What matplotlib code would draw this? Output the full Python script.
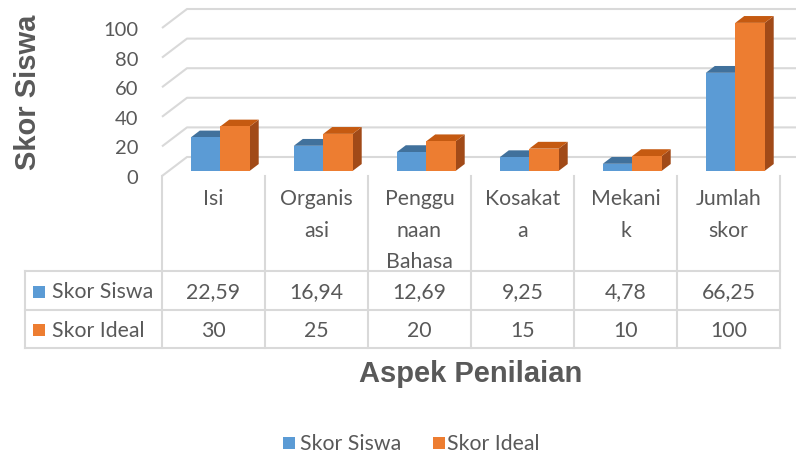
import matplotlib
matplotlib.use("Agg")
import matplotlib.pyplot as plt
from matplotlib.patches import Rectangle, Polygon
from matplotlib.transforms import Affine2D, blended_transform_factory

# ---------------- data ----------------
categories = ["Isi", "Organis\nasi", "Penggu\nnaan\nBahasa", "Kosakat\na", "Mekani\nk", "Jumlah\nskor"]
series_names = ["Skor Siswa", "Skor Ideal"]
skor_siswa = [22.59, 16.94, 12.69, 9.25, 4.78, 66.25]
skor_ideal = [30, 25, 20, 15, 10, 100]
y_ticks = [0, 20, 40, 60, 80, 100]
y_title = "Skor Siswa"
x_title = "Aspek Penilaian"

# ---------------- style ----------------
W, H = 796, 456
front_col = ["#5B9BD5", "#ED7D31"]
top_col = ["#41719C", "#C55A11"]
side_col = ["#3F6F9B", "#A14A18"]
grid_col = "#D9D9D9"
txt_col = "#595959"
FONT = "Lato"
plt.rcParams["font.family"] = [FONT, "DejaVu Sans"]

fig = plt.figure(figsize=(W / 100, H / 100), dpi=100)
fig.patch.set_facecolor("white")

# plot area (front plane) in pixels
left_px, right_px = 162, 780
y0_px, y100_px = 177, 29
ax = fig.add_axes([left_px / W, 1 - y0_px / H, (right_px - left_px) / W, (y0_px - y100_px) / H])
ncat = len(categories)
ax.set_xlim(0, ncat)
ax.set_ylim(0, 100)
for s in ax.spines.values():
    s.set_visible(False)
ax.set_xticks([])
ax.set_yticks(y_ticks)
ax.set_yticklabels([str(t) for t in y_ticks])
ax.tick_params(axis="y", length=0, pad=17, labelsize=14.5, labelcolor=txt_col)
ax.patch.set_alpha(0)

col_px = (right_px - left_px) / ncat
DX = 25 / col_px                      # depth shift in category units
DY = 19 / (y0_px - y100_px) * 100     # depth shift in value units
f0, f1 = 0.27, 0.63                   # bar front/back depth fractions
bw = 0.286                            # bar width (category units)

# gridlines (floor + back wall)
x_right = (W - left_px) / col_px
for t in y_ticks:
    ax.plot([0, DX, x_right], [t, t + DY, t + DY], color=grid_col, lw=1.5,
            clip_on=False, zorder=1, solid_capstyle="butt")

# 3D bars
d = f1 - f0
for i in range(ncat):
    for s, vals in enumerate([skor_siswa, skor_ideal]):
        v = vals[i]
        x0 = i + 0.5 - bw + s * bw + f0 * DX
        yb = f0 * DY
        ax.add_patch(Polygon([(x0 + bw, yb), (x0 + bw + d * DX, yb + d * DY),
                              (x0 + bw + d * DX, yb + v + d * DY), (x0 + bw, yb + v)],
                             closed=True, facecolor=side_col[s], edgecolor="none",
                             clip_on=False, zorder=3 + s))
        ax.add_patch(Polygon([(x0, yb + v), (x0 + bw, yb + v),
                              (x0 + bw + d * DX, yb + v + d * DY), (x0 + d * DX, yb + v + d * DY)],
                             closed=True, facecolor=top_col[s], edgecolor="none",
                             clip_on=False, zorder=3 + s))
        ax.add_patch(Rectangle((x0, yb), bw, v, facecolor=front_col[s], edgecolor="none",
                               clip_on=False, zorder=3 + s))

# ---------------- data table ----------------
px = Affine2D().scale(0.01, -0.01).translate(0, H / 100) + fig.dpi_scale_trans
bt = blended_transform_factory(ax.transData, px)

tab_left = 25
hdr_top, hdr_bot, r1_bot, r2_bot = 177, 272, 311, 349
lkw = dict(color=grid_col, lw=1.5, clip_on=False, zorder=2, solid_capstyle="projecting")
for i in range(ncat + 1):
    ax.plot([i, i], [hdr_top, r2_bot], transform=bt, **lkw)
for yy in [hdr_bot, r1_bot, r2_bot]:
    ax.plot([tab_left, right_px], [yy, yy], transform=px, **lkw)
ax.plot([tab_left, tab_left], [hdr_bot, r2_bot], transform=px, **lkw)

fs = 15.3
for i, c in enumerate(categories):
    ax.text(i + 0.5, 189, c, transform=bt, ha="center", va="top", fontsize=fs,
            color=txt_col, linespacing=1.72, clip_on=False)

row_y = [(hdr_bot + r1_bot) / 2, (r1_bot + r2_bot) / 2]
def fmt(v):
    return f"{v:g}".replace(".", ",")
for s, vals in enumerate([skor_siswa, skor_ideal]):
    for i, v in enumerate(vals):
        ax.text(i + 0.5, row_y[s] + 1, fmt(v), transform=bt, ha="center", va="center",
                fontsize=fs, color=txt_col, clip_on=False)
    ax.add_patch(Rectangle((33, row_y[s] - 5), 12, 12, transform=px, facecolor=front_col[s],
                           edgecolor="none", clip_on=False))
    ax.text(52, row_y[s] + 1, series_names[s], transform=px, ha="left", va="center",
            fontsize=fs, color=txt_col, clip_on=False)

# axis titles
fig.text(28 / W, 1 - 92 / H, y_title, rotation=90, ha="center", va="center",
         fontsize=21, fontweight="bold", color=txt_col, family=["Liberation Sans", "DejaVu Sans"])
fig.text(471 / W, 1 - 374 / H, x_title, ha="center", va="center",
         fontsize=21, fontweight="bold", color=txt_col, family=["Liberation Sans", "DejaVu Sans"])

# legend
leg_y = 444
for s, (x_sq, x_tx) in enumerate([(283, 300), (433, 447)]):
    ax.add_patch(Rectangle((x_sq, leg_y - 6), 12, 12, transform=px, facecolor=front_col[s],
                           edgecolor="none", clip_on=False))
    ax.text(x_tx, leg_y, series_names[s], transform=px, ha="left", va="center",
            fontsize=fs, color=txt_col, clip_on=False)

fig.savefig("out.png", dpi=100)
